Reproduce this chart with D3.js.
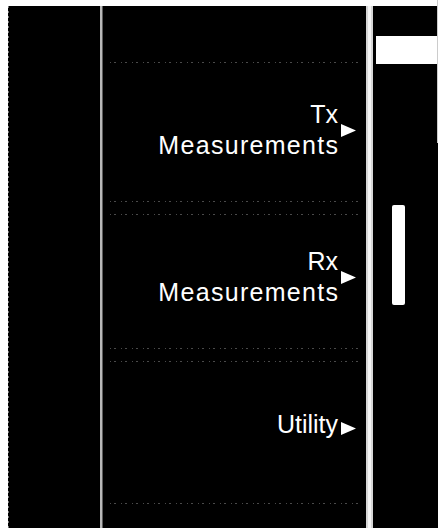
<!DOCTYPE html>
<html>
<head>
<meta charset="utf-8">
<script src="https://cdn.jsdelivr.net/npm/d3@7"></script>
<style>
    body { margin: 0; background: #fff; }
    text { font-family: "Liberation Sans", Arial, sans-serif; }
</style>
</head>
<body>
<svg id="menu" width="438" height="528"></svg>
<script>
/**
 * Menu entries, top to bottom.
 */
const menuItems = ["tx", "rx", "utility"];

/**
 * Text lines of every entry.
 */
const menuLabels = [["Tx", "Measurements"], ["Rx", "Measurements"], ["Utility"]];

/**
 * Scroll thumb position as a fraction of the panel height (start, end).
 */
const scrollThumb = [0.381, 0.573];

const width = 438;
const height = 528;
const top_edge = 6;

// panel columns
const leftPanel = [8, 100];
const menuPanel = [103, 366];
const rightPanel = [373, 438];

let svg = d3.select("#menu");

svg.append("rect")
    .attr("width", width)
    .attr("height", height)
    .attr("fill", "#fff");

// black background of the whole screen
svg.append("rect")
    .attr("x", leftPanel[0])
    .attr("y", top_edge)
    .attr("width", width - leftPanel[0])
    .attr("height", height - top_edge)
    .attr("fill", "#000");

// faint left border
svg.append("line")
    .attr("x1", leftPanel[0] + 0.5).attr("x2", leftPanel[0] + 0.5)
    .attr("y1", top_edge).attr("y2", height)
    .attr("stroke", "#777")
    .attr("stroke-dasharray", "2,3");

// gray divider between the left panel and the menu
svg.append("rect")
    .attr("x", leftPanel[1])
    .attr("y", top_edge)
    .attr("width", 2.5)
    .attr("height", height - top_edge)
    .attr("fill", "#b8b8b8");

// light divider between the menu and the right panel
svg.append("rect")
    .attr("x", menuPanel[1])
    .attr("y", top_edge)
    .attr("width", rightPanel[0] - menuPanel[1])
    .attr("height", height - top_edge)
    .attr("fill", "#d6d6d6");
svg.append("rect")
    .attr("x", menuPanel[1] + 2)
    .attr("y", top_edge)
    .attr("width", 3)
    .attr("height", height - top_edge)
    .attr("fill", "#f4f4f4");

// white tab in the right panel
svg.append("rect")
    .attr("x", rightPanel[0] + 3)
    .attr("y", 36)
    .attr("width", rightPanel[1] - rightPanel[0] - 4)
    .attr("height", 28)
    .attr("fill", "#fff");

svg.append("line")
    .attr("x1", width - 0.5).attr("x2", width - 0.5)
    .attr("y1", 0).attr("y2", 143)
    .attr("stroke", "#ccc");

// scroll thumb
let s = d3.scaleLinear().domain([0, 1]).range([top_edge, height]);
svg.append("rect")
    .attr("x", 392)
    .attr("y", s(scrollThumb[0]))
    .attr("width", 13)
    .attr("height", s(scrollThumb[1]) - s(scrollThumb[0]))
    .attr("rx", 2)
    .attr("fill", "#fff");

// one band per menu entry
let y = d3.scaleBand()
    .domain(menuItems)
    .range([62, 503])
    .padding(0);

const bw = y.bandwidth();
const lineHeight = 31;
const textRight = 338;

let items = svg.selectAll(".item")
    .data(menuItems)
    .enter().append("g")
    .attr("class", "item");

// faint separators at the top and bottom of every entry
items.each(function (d, i) {
    let g = d3.select(this);
    let yTop = y(d) + (i > 0 ? 5 : 0);
    let yBot = y(d) + bw - (i < menuItems.length - 1 ? 8 : 0);
    [yTop, yBot].forEach(function (yy) {
        g.append("line")
            .attr("x1", 110).attr("x2", 360)
            .attr("y1", yy + 0.5).attr("y2", yy + 0.5)
            .attr("stroke", "#4a4a4a")
            .attr("stroke-width", 1)
            .attr("stroke-dasharray", "1,3,2,5");
    });
});

// labels
items.each(function (d, i) {
    let g = d3.select(this);
    let lines = menuLabels[i];
    let mid = y(d) + bw / 2 - 6;
    // baseline of the first line so that the block of caps is centred
    let first = mid - (lines.length - 1) * lineHeight / 2 + 9;
    lines.forEach(function (txt, j) {
        g.append("text")
            .attr("x", textRight + (j > 0 ? 1.3 : 0))
            .attr("y", first + j * lineHeight)
            .attr("text-anchor", "end")
            .attr("fill", "#fff")
            .attr("font-size", 25)
            .attr("letter-spacing", j > 0 ? 1.3 : 0)
            .text(txt);
    });
    // submenu arrow
    let ay = lines.length > 1 ? first + (lineHeight - 18) / 2 + 1 : first - 4;
    g.append("path")
        .attr("d", d3.line()([[341, ay - 6.5], [356, ay], [341, ay + 6.5]]) + "Z")
        .attr("fill", "#fff");
});
</script>
</body>
</html>
